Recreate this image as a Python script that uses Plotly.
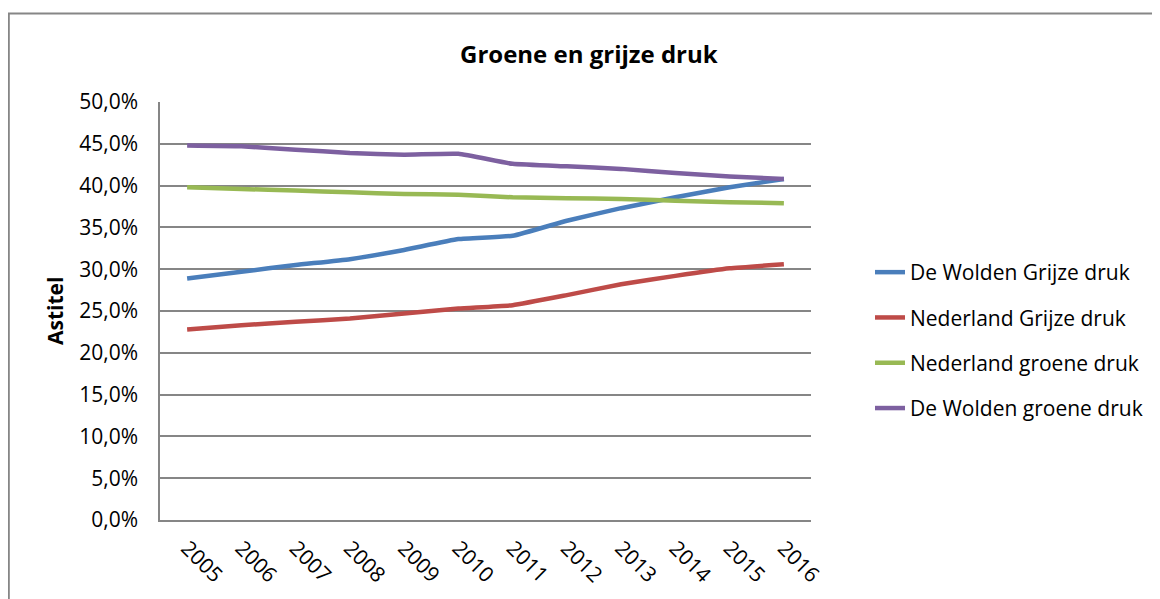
import plotly.graph_objects as go

years = ["2005", "2006", "2007", "2008", "2009", "2010", "2011", "2012", "2013", "2014", "2015", "2016"]
wolden_grijs = [28.9, 29.7, 30.5, 31.2, 32.3, 33.6, 34.0, 35.8, 37.3, 38.6, 39.8, 40.8]
nl_grijs = [22.8, 23.3, 23.7, 24.1, 24.7, 25.3, 25.7, 26.9, 28.2, 29.2, 30.1, 30.6]
nl_groen = [39.8, 39.6, 39.4, 39.2, 39.0, 38.9, 38.6, 38.5, 38.4, 38.2, 38.0, 37.9]
wolden_groen = [44.8, 44.7, 44.3, 43.9, 43.7, 43.8, 42.6, 42.3, 42.0, 41.5, 41.1, 40.8]

series = [
    ("De Wolden Grijze druk", wolden_grijs, "#4A7EBB"),
    ("Nederland Grijze druk", nl_grijs, "#BE4B48"),
    ("Nederland groene druk", nl_groen, "#98B954"),
    ("De Wolden groene druk", wolden_groen, "#7D60A0"),
]

FONT = "Open Sans"
fig = go.Figure()
for i, (name, vals, col) in enumerate(series):
    fig.add_trace(go.Scatter(
        x=years, y=[v / 100 for v in vals], name=name, mode="lines",
        line=dict(color=col, width=4.5, shape="spline", smoothing=0.4),
        legendgroup=f"g{i}",
    ))

# page is offset by the 8px body margin; work in figure coordinates
OFF = 8
W, H = 1160 - OFF, 599 - OFF
L, R, T, B = 160 - OFF, 811 - OFF, 102 - OFF, 520 - OFF


def px(xp):
    return (xp - OFF - L) / (R - L)


def py(yp):
    return (B - (yp - OFF)) / (B - T)


fig.update_layout(
    width=W, height=H,
    margin=dict(l=L, r=W - R, t=T, b=H - B, pad=0),
    paper_bgcolor="white", plot_bgcolor="white",
    separators=",.",
    font=dict(family=FONT, size=20, color="#000000"),
    showlegend=True,
    legend=dict(
        x=px(870), y=py(252), xanchor="left", yanchor="top",
        font=dict(family=FONT, size=21, color="#000000"),
        tracegroupgap=15, bgcolor="rgba(0,0,0,0)",
    ),
    xaxis=dict(
        type="category", showgrid=False, showline=True, linecolor="#868686", linewidth=1.5,
        ticks="outside", ticklen=6, tickcolor="rgba(0,0,0,0)",
        tickangle=45, tickfont=dict(family=FONT, size=21),
        range=[-0.5, 11.5],
    ),
    yaxis=dict(
        range=[0, 0.5], dtick=0.05, tickformat=".1%",
        showgrid=True, gridcolor="#868686", gridwidth=1.5,
        showline=True, linecolor="#868686", linewidth=1.5, ticks="",
        ticklabelstandoff=16, tickfont=dict(family=FONT, size=21),
        zeroline=False,
    ),
)

fig.add_annotation(
    text="<b>Groene en grijze druk</b>", xref="paper", yref="paper",
    x=px(589), y=py(53), xanchor="center", yanchor="middle",
    showarrow=False, font=dict(family=FONT, size=24, color="#000000"),
)
fig.add_annotation(
    text="<b>Astitel</b>", xref="paper", yref="paper", textangle=-90,
    x=px(55), y=py(311), xanchor="center", yanchor="middle",
    showarrow=False, font=dict(family=FONT, size=21, color="#000000"),
)
fig.add_shape(
    type="rect", xref="paper", yref="paper",
    x0=(0.8 - L) / (R - L), x1=(1200 - L) / (R - L),
    y0=py(640), y1=py(13.5),
    line=dict(color="#868686", width=2), fillcolor="rgba(0,0,0,0)", layer="below",
)

fig.write_html("out.html")
